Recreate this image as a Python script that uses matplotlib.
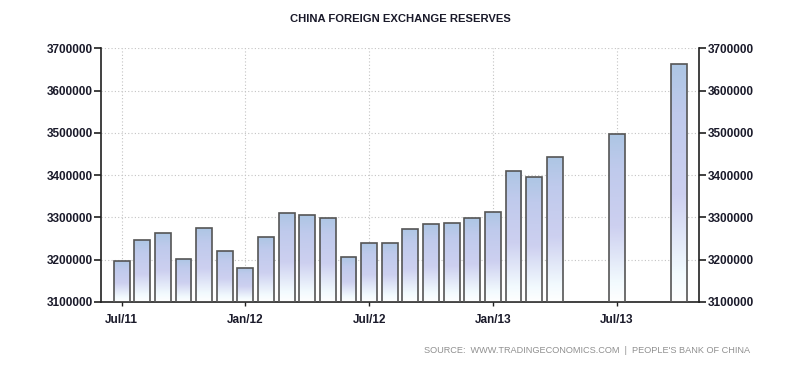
import matplotlib
matplotlib.use("Agg")
import matplotlib.pyplot as plt
import numpy as np
from matplotlib.colors import LinearSegmentedColormap

# Data: month offset from Jul 2011 and reserve value (USD millions)
month_offsets = [0, 1, 2, 3, 4, 5, 6, 7, 8, 9, 10, 11, 12, 13, 14, 15, 16, 17, 18, 19, 20, 21, 24, 27]
values = [3197500, 3245300, 3262600, 3201700, 3273800, 3220900, 3181100, 3253600,
          3309700, 3305000, 3298900, 3206100, 3240000, 3240000, 3272900, 3285100,
          3287400, 3297700, 3311600, 3409500, 3395400, 3442600, 3496700, 3662700]
tick_positions = [0, 6, 12, 18, 24]
tick_labels = ["Jul/11", "Jan/12", "Jul/12", "Jan/13", "Jul/13"]
y_ticks = [3100000, 3200000, 3300000, 3400000, 3500000, 3600000, 3700000]

FONT = "Liberation Sans"
txt = "#1a1a2a"

fig = plt.figure(figsize=(8, 3.68), dpi=100)
ax = fig.add_axes([0.12625, 0.180, 0.874 - 0.12625, 0.8687 - 0.180])

ymin, ymax = 3100000, 3700000
bars = ax.bar(month_offsets, [v - ymin for v in values], bottom=ymin, width=0.77,
              facecolor="none", edgecolor="#555555", linewidth=1.2, zorder=3)

cmap = LinearSegmentedColormap.from_list(
    "g", [(0.0, "#ffffff"), (0.12, "#f2fafe"), (0.45, "#cdd0f0"), (0.8, "#bfcaec"), (1.0, "#adc6e4")])
grad = np.linspace(0, 1, 256).reshape(-1, 1)
for rect in bars:
    x0 = rect.get_x()
    w = rect.get_width()
    y0 = rect.get_y()
    h = rect.get_height()
    im = ax.imshow(grad, cmap=cmap, origin="lower", aspect="auto",
                   extent=[x0, x0 + w, y0, y0 + h], zorder=2, interpolation="bilinear")
    im.set_clip_path(rect)

ax.set_xlim(-1, 28)
ax.set_ylim(ymin, ymax)

ax.set_yticks(y_ticks)
ax.set_yticklabels([str(v) for v in y_ticks])
ax.set_xticks(tick_positions)
ax.set_xticklabels(tick_labels)

ax.tick_params(axis="y", which="both", direction="out", length=5, width=1.2, color="#202020",
               left=True, right=True, labelleft=True, labelright=True, pad=1,
               labelsize=8.5, labelcolor=txt)
ax.tick_params(axis="x", direction="out", length=3, width=1, color="#202020",
               pad=6, labelsize=8.5, labelcolor=txt)
for lab in ax.get_yticklabels() + ax.get_xticklabels():
    lab.set_fontfamily(FONT)
    lab.set_fontweight("bold")

ax.grid(True, color="#c4c4c4", linestyle=(0, (1, 2)), linewidth=0.8, zorder=0)
ax.set_axisbelow(True)

ax.spines["top"].set_visible(False)
for s in ["left", "right", "bottom"]:
    ax.spines[s].set_color("#202020")
    ax.spines[s].set_linewidth(1.2)

fig.text(0.5, 0.948, "CHINA FOREIGN EXCHANGE RESERVES", ha="center", va="center",
         fontsize=8.1, fontweight="bold", family=FONT, color=txt)
fig.text(0.734, 0.047, "SOURCE:  WWW.TRADINGECONOMICS.COM  |  PEOPLE'S BANK OF CHINA",
         ha="center", va="center", fontsize=6.6, family=FONT, color="#909090")

fig.savefig("out.png", dpi=100)
